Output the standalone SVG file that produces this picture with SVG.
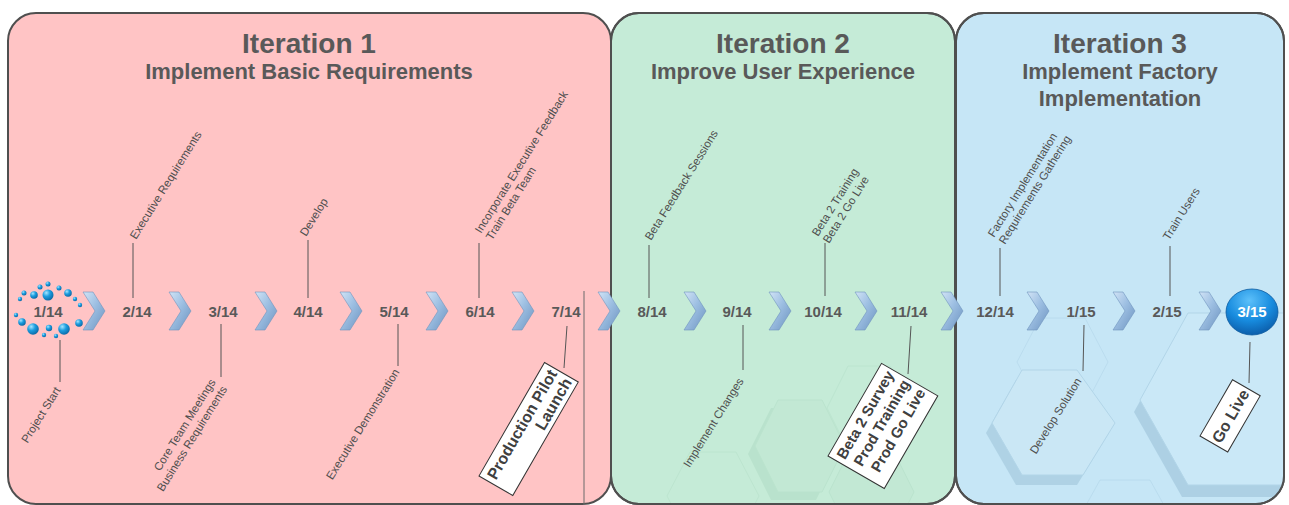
<svg xmlns="http://www.w3.org/2000/svg" width="1289" height="505" viewBox="0 0 1289 505">
<style>
  .panel{stroke:#4f4f4f;stroke-width:2}
  .title{font-family:"Liberation Sans",Arial,sans-serif;font-weight:bold;font-size:28px;fill:#595959;text-anchor:middle}
  .sub{font-family:"Liberation Sans",Arial,sans-serif;font-weight:bold;font-size:22px;fill:#595959;text-anchor:middle}
  .date{font-family:"Liberation Sans",Arial,sans-serif;font-weight:bold;font-size:15px;fill:#595959;text-anchor:middle}
  .lbl{font-family:"Liberation Sans",Arial,sans-serif;font-size:11.5px;fill:#4f4f4f}
  .end{text-anchor:end}
  .box{fill:#ffffff;stroke:#333333;stroke-width:1}
  .boxt{font-family:"Liberation Sans",Arial,sans-serif;font-weight:bold;font-size:16px;fill:#404040}
  .lead{stroke:#555555;stroke-width:1;fill:none}
  .chev{fill:url(#chevG);stroke:#6f93bd;stroke-width:0.6}
</style>
<defs>
  <linearGradient id="chevG" x1="0" y1="0" x2="1" y2="1">
    <stop offset="0" stop-color="#d2e4f6"/>
    <stop offset="0.45" stop-color="#9dbfe2"/>
    <stop offset="1" stop-color="#6c93c0"/>
  </linearGradient>
  <radialGradient id="dotG" cx="0.35" cy="0.3" r="0.75">
    <stop offset="0" stop-color="#a6e6ff"/>
    <stop offset="0.45" stop-color="#1c9ee0"/>
    <stop offset="1" stop-color="#0a66a3"/>
  </radialGradient>
  <radialGradient id="endG" cx="0.45" cy="0.25" r="0.8">
    <stop offset="0" stop-color="#5cc0fa"/>
    <stop offset="0.55" stop-color="#178bde"/>
    <stop offset="1" stop-color="#0a57a3"/>
  </radialGradient>
  <path id="chev" d="M-11,-19 L-1,-19 L11,0 L-1,19 L-11,19 L1,0 Z"/>
  <clipPath id="clipG"><rect x="611" y="13" width="344" height="491" rx="28"/></clipPath>
  <clipPath id="clipB"><rect x="956" y="13" width="328" height="491" rx="28"/></clipPath>
</defs>

<rect width="1289" height="505" fill="#ffffff"/>

<g id="iteration1">
  <rect class="panel" x="8" y="13" width="603" height="491" rx="28" fill="#ffc4c5"/>
  <text class="title" x="309" y="53">Iteration 1</text>
  <text class="sub" x="309" y="79">Implement Basic Requirements</text>
</g>
<g id="iteration2">
  <rect class="panel" x="611" y="13" width="344" height="491" rx="28" fill="#c5ebd7"/>
  <g clip-path="url(#clipG)" opacity="0.4">
    <polygon points="771,408 816,408 839,454 816,500 771,500 748,454" fill="#a9d4bd"/>
    <polygon points="778,400 822,400 845,446 822,492 778,492 755,446" fill="#bfe4cf" stroke="#aad6bf"/>
    <polygon points="848,366 890,366 911,408 890,450 848,450 827,408" fill="none" stroke="#b0dbc3"/>
    <polygon points="850,450 893,450 914,492 893,534 850,534 829,492" fill="#bfe4cf" stroke="#aad6bf"/>
    <polygon points="690,452 736,452 759,496 736,540 690,540 667,496" fill="none" stroke="#b0dbc3"/>
  </g>
  <rect class="panel" x="611" y="13" width="344" height="491" rx="28" fill="none"/>
  <text class="title" x="783" y="53">Iteration 2</text>
  <text class="sub" x="783" y="79">Improve User Experience</text>
</g>
<g id="iteration3">
  <rect class="panel" x="956" y="13" width="328" height="491" rx="28" fill="#c6e6f6"/>
  <g clip-path="url(#clipB)">
    <polygon points="1040,318 1085,318 1108,362 1085,406 1040,406 1017,362" fill="none" stroke="#b3d6ea" opacity="0.6"/>
    <polygon points="1016,380 1071,380 1109,433 1077,485 1016,485 986,433" fill="#a9cde1" opacity="0.8"/>
    <polygon points="1022,370 1077,370 1115,423 1083,475 1022,475 992,423" fill="#cae7f5" stroke="#b2d5e8"/>
    <polygon points="1182,325 1300,325 1350,412 1300,497 1182,497 1134,412" fill="#a6cbe0" opacity="0.8"/>
    <polygon points="1188,313 1306,313 1356,400 1306,485 1188,485 1140,400" fill="#cae8f7" stroke="#b2d5e8"/>
    <polygon points="1100,480 1150,480 1175,525 1150,570 1100,570 1075,525" fill="none" stroke="#b3d6ea" opacity="0.6"/>
  </g>
  <rect class="panel" x="956" y="13" width="328" height="491" rx="28" fill="none"/>
  <text class="title" x="1120" y="53">Iteration 3</text>
  <text class="sub" x="1120" y="79">Implement Factory</text>
  <text class="sub" x="1120" y="106">Implementation</text>
</g>

<g id="connectors">
  <line class="lead" x1="133" y1="243" x2="133" y2="298"/>
  <line class="lead" x1="308" y1="240" x2="308" y2="298"/>
  <line class="lead" x1="479" y1="243" x2="479" y2="298"/>
  <line class="lead" x1="649" y1="245" x2="649" y2="298"/>
  <line class="lead" x1="825" y1="243" x2="825" y2="296"/>
  <line class="lead" x1="1000" y1="248" x2="1000" y2="296"/>
  <line class="lead" x1="1170" y1="246" x2="1170" y2="296"/>
  <line class="lead" x1="60" y1="340" x2="60" y2="382"/>
  <line class="lead" x1="221" y1="324" x2="221" y2="377"/>
  <line class="lead" x1="398" y1="324" x2="398" y2="366"/>
  <line class="lead" x1="567" y1="326" x2="564" y2="368"/>
  <line class="lead" x1="743" y1="325" x2="743" y2="370"/>
  <line class="lead" x1="911" y1="326" x2="908" y2="374"/>
  <line class="lead" x1="1084" y1="325" x2="1083" y2="371"/>
  <line class="lead" x1="1250" y1="342" x2="1249" y2="383"/>
  <line x1="584" y1="291" x2="584" y2="505" stroke="#6a6a6a" stroke-width="1"/>
</g>

<g id="chevrons">
  <use href="#chev" class="chev" x="94" y="311"/>
  <use href="#chev" class="chev" x="180" y="311"/>
  <use href="#chev" class="chev" x="266" y="311"/>
  <use href="#chev" class="chev" x="351" y="311"/>
  <use href="#chev" class="chev" x="437" y="311"/>
  <use href="#chev" class="chev" x="523" y="311"/>
  <use href="#chev" class="chev" x="609" y="311"/>
  <use href="#chev" class="chev" x="695" y="311"/>
  <use href="#chev" class="chev" x="780" y="311"/>
  <use href="#chev" class="chev" x="866" y="311"/>
  <use href="#chev" class="chev" x="952" y="311"/>
  <use href="#chev" class="chev" x="1038" y="311"/>
  <use href="#chev" class="chev" x="1124" y="311"/>
  <use href="#chev" class="chev" x="1210" y="311"/>
</g>

<g id="m-1-14">
  <g fill="url(#dotG)">
    <circle cx="48" cy="295" r="5.5"/><circle cx="34" cy="295" r="3.8"/><circle cx="40" cy="287" r="2.5"/>
    <circle cx="48" cy="284" r="2.5"/><circle cx="59" cy="288" r="2.5"/><circle cx="68" cy="293" r="3.8"/>
    <circle cx="24" cy="293" r="2.5"/><circle cx="20" cy="299" r="2.2"/><circle cx="75" cy="299" r="2.2"/>
    <circle cx="80" cy="305" r="2.2"/><circle cx="16" cy="315" r="2.2"/><circle cx="22" cy="322" r="3.8"/>
    <circle cx="33" cy="329" r="5.8"/><circle cx="44" cy="335" r="2.2"/><circle cx="49" cy="328" r="3.2"/>
    <circle cx="56" cy="336" r="2.2"/><circle cx="64" cy="329" r="5.8"/><circle cx="79" cy="323" r="3.8"/>
  </g>
  <text class="date" x="48" y="317">1/14</text>
</g>
<g id="m-2-14"><text class="date" x="137" y="317">2/14</text></g>
<g id="m-3-14"><text class="date" x="223" y="317">3/14</text></g>
<g id="m-4-14"><text class="date" x="308" y="317">4/14</text></g>
<g id="m-5-14"><text class="date" x="394" y="317">5/14</text></g>
<g id="m-6-14"><text class="date" x="480" y="317">6/14</text></g>
<g id="m-7-14"><text class="date" x="566" y="317">7/14</text></g>
<g id="m-8-14"><text class="date" x="652" y="317">8/14</text></g>
<g id="m-9-14"><text class="date" x="737" y="317">9/14</text></g>
<g id="m-10-14"><text class="date" x="823" y="317">10/14</text></g>
<g id="m-11-14"><text class="date" x="909" y="317">11/14</text></g>
<g id="m-12-14"><text class="date" x="995" y="317">12/14</text></g>
<g id="m-1-15"><text class="date" x="1081" y="317">1/15</text></g>
<g id="m-2-15"><text class="date" x="1167" y="317">2/15</text></g>
<g id="m-3-15">
  <ellipse cx="1252" cy="312" rx="26" ry="23" fill="url(#endG)" stroke="#0b5aa0" stroke-width="0.8"/>
  <text class="date" x="1252" y="317" style="fill:#ffffff">3/15</text>
</g>

<g id="top-labels">
  <g transform="translate(136,240) rotate(-58)"><text class="lbl">Executive Requirements</text></g>
  <g transform="translate(306,237) rotate(-58)"><text class="lbl">Develop</text></g>
  <g transform="translate(481,234) rotate(-58)"><text class="lbl"><tspan x="0" y="0">Incorporate Executive Feedback</tspan><tspan x="0" y="13">Train Beta Team</tspan></text></g>
  <g transform="translate(651,241) rotate(-58)"><text class="lbl">Beta Feedback Sessions</text></g>
  <g transform="translate(818,237) rotate(-58)"><text class="lbl"><tspan x="0" y="0">Beta 2 Training</tspan><tspan x="0" y="13">Beta 2 Go Live</tspan></text></g>
  <g transform="translate(994,238) rotate(-58)"><text class="lbl"><tspan x="0" y="0">Factory Implementation</tspan><tspan x="0" y="13">Requirements Gathering</tspan></text></g>
  <g transform="translate(1169,241) rotate(-58)"><text class="lbl">Train Users</text></g>
</g>

<g id="bottom-labels">
  <g transform="translate(61,390) rotate(-58)"><text class="lbl end">Project Start</text></g>
  <g transform="translate(216,382) rotate(-58)"><text class="lbl end"><tspan x="0" y="0">Core Team Meetings</tspan><tspan x="0" y="13.5">Business Requirements</tspan></text></g>
  <g transform="translate(400,372) rotate(-58)"><text class="lbl end">Executive Demonstration</text></g>
  <g transform="translate(744,381) rotate(-58)"><text class="lbl end">Implement Changes</text></g>
  <g transform="translate(1082,381) rotate(-58)"><text class="lbl end">Develop Solution</text></g>
</g>

<g id="note-production-pilot" transform="translate(479,476) rotate(-60)">
  <rect class="box" x="0" y="0" width="131" height="39"/>
  <text class="boxt" text-anchor="end"><tspan x="128" y="17">Production Pilot</tspan><tspan x="128" y="34">Launch</tspan></text>
</g>
<g id="note-beta2" transform="translate(828,456) rotate(-60)">
  <rect class="box" x="0" y="0" width="107" height="65"/>
  <text class="boxt" text-anchor="end" style="font-size:15px"><tspan x="104" y="17">Beta 2 Survey</tspan><tspan x="104" y="35">Prod Training</tspan><tspan x="104" y="53">Prod Go Live</tspan></text>
</g>
<g id="note-go-live" transform="translate(1200,436) rotate(-60)">
  <rect class="box" x="0" y="0" width="65" height="32"/>
  <text class="boxt" text-anchor="middle" x="32.5" y="22">Go Live</text>
</g>
</svg>
